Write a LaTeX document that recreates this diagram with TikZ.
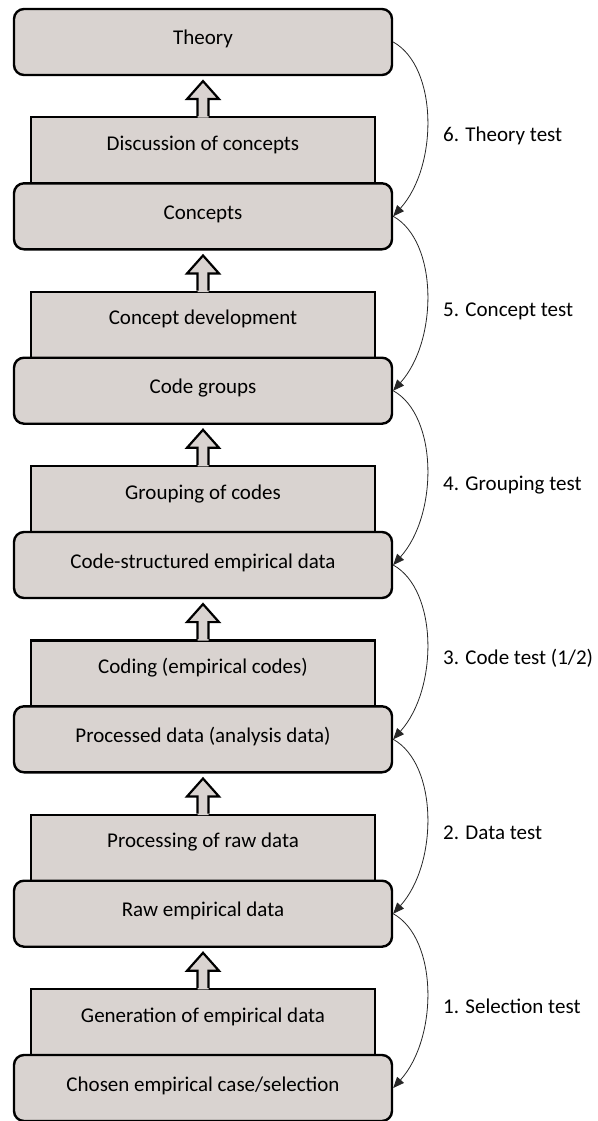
\documentclass[tikz,border=0pt]{standalone}
\usepackage{fontspec}
\setmainfont{Carlito}
\usetikzlibrary{arrows.meta}
\definecolor{boxfill}{RGB}{217,211,208}
\newcommand\upblockarrow[1]{%
  \fill[boxfill] ([xshift=-5.5pt,yshift=-1.6pt]#1.north) -- ++(0,18.6) -- ++(-10.5,0) -- ++(16,18) -- ++(16,-18) -- ++(-10.5,0) -- ++(0,-18.6) -- cycle;
  \draw[blockarrow] ([xshift=-5.5pt]#1.north) -- ++(0,17) -- ++(-10.5,0) -- ++(16,18) -- ++(16,-18) -- ++(-10.5,0) -- ++(0,-17);
}
\begin{document}
\begin{tikzpicture}[x=1pt,y=1pt,
  stage/.style={draw=black, line width=2.4pt, fill=boxfill, rounded corners=10pt,
    minimum width=378pt, minimum height=66pt, inner sep=0pt,
    text height=14pt, text depth=8pt, font=\fontsize{21}{25}\selectfont},
  proc/.style={stage, rounded corners=0pt, minimum width=344pt,
    text height=11pt, text depth=11pt},
  testlabel/.style={anchor=base west, inner sep=0pt, font=\fontsize{21}{25}\selectfont},
  testarrow/.style={draw=black!85, line width=0.8pt, -{Triangle[length=11pt,width=9pt]}},
  blockarrow/.style={draw=black, line width=2.2pt, line join=miter}]
\useasboundingbox (0,0) rectangle (597,-1121);

% process rectangles (drawn first, under the rounded boxes)
\node[proc] (p1) at (203,-150.3) {Discussion of concepts};
\node[proc] (p2) at (203,-324.7) {Concept development};
\node[proc] (p3) at (203,-499.0) {Grouping of codes};
\node[proc] (p4) at (203,-673.3) {Coding (empirical codes)};
\node[proc] (p5) at (203,-847.7) {Processing of raw data};
\node[proc] (p6) at (203,-1022.0) {Generation of empirical data};

% stage boxes
\node[stage] (s0) at (203,-42.0) {Theory};
\node[stage] (s1) at (203,-216.3) {Concepts};
\node[stage] (s2) at (203,-390.7) {Code groups};
\node[stage] (s3) at (203,-565.0) {Code-structured empirical data};
\node[stage] (s4) at (203,-739.3) {Processed data (analysis data)};
\node[stage] (s5) at (203,-913.7) {Raw empirical data};
\node[stage] (s6) at (203,-1088.0) {Chosen empirical case/selection};

% block arrows
\upblockarrow{p1}
\upblockarrow{p2}
\upblockarrow{p3}
\upblockarrow{p4}
\upblockarrow{p5}
\upblockarrow{p6}

% test curves
\draw[testarrow] (s0.east) .. controls +(45,-25) and +(45,50) .. (s1.east);
\draw[testarrow] (s1.east) .. controls +(45,-25) and +(45,50) .. (s2.east);
\draw[testarrow] (s2.east) .. controls +(45,-25) and +(45,50) .. (s3.east);
\draw[testarrow] (s3.east) .. controls +(45,-25) and +(45,50) .. (s4.east);
\draw[testarrow] (s4.east) .. controls +(45,-25) and +(45,50) .. (s5.east);
\draw[testarrow] (s5.east) .. controls +(45,-25) and +(45,50) .. (s6.east);

% labels
\node[testlabel] (l6) at (443,-141.7) {6. Theory test};
\node[testlabel] (l5) at (443,-316.0) {5. Concept test};
\node[testlabel] (l4) at (443,-490.3) {4. Grouping test};
\node[testlabel] (l3) at (443,-664.7) {3. Code test (1/2)};
\node[testlabel] (l2) at (443,-839.0) {2. Data test};
\node[testlabel] (l1) at (443,-1013.3) {1. Selection test};
\end{tikzpicture}
\end{document}
